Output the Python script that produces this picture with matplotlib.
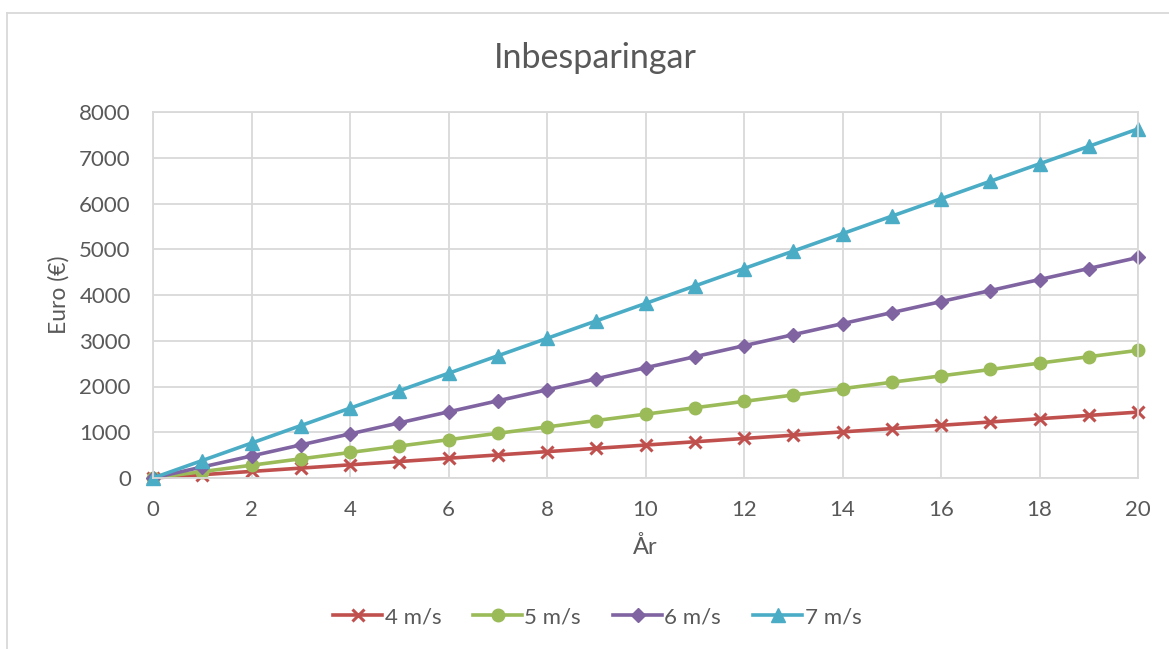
import matplotlib
matplotlib.use('Agg')
from matplotlib import pyplot as plt
from matplotlib.lines import Line2D

plt.rcParams['font.family'] = ['Lato', 'DejaVu Sans']

# år och inbesparing (euro) per vindhastighet
years = list(range(0, 21))
v4 = [0, 72, 144, 216, 288, 360, 432, 504, 576, 648, 720,
      792, 864, 936, 1008, 1080, 1152, 1224, 1296, 1368, 1440]
v5 = [0, 140, 279, 419, 558, 698, 837, 977, 1116, 1256, 1395,
      1535, 1674, 1814, 1953, 2093, 2232, 2372, 2511, 2651, 2790]
v6 = [0, 241, 482, 723, 964, 1205, 1446, 1687, 1928, 2169, 2410,
      2651, 2892, 3133, 3374, 3615, 3856, 4097, 4338, 4579, 4820]
v7 = [0, 382, 763, 1145, 1526, 1908, 2289, 2671, 3052, 3434, 3815,
      4197, 4578, 4960, 5341, 5723, 6104, 6486, 6867, 7249, 7630]
labels = ['4 m/s', '5 m/s', '6 m/s', '7 m/s']

grey = '#595959'
gridc = '#D9D9D9'

px = 1/100
fig = plt.figure(figsize=(1169*px, 649*px), dpi=100)
ax = fig.add_axes([153/1169, 1-478/649, (1138-153)/1169, (478-112)/649])

ax.plot(years, v4, color='#C0504D', lw=2.6, marker='x', ms=9, mew=2.2, label=labels[0])
ax.plot(years, v5, color='#9BBB59', lw=2.6, marker='o', ms=9, label=labels[1])
ax.plot(years, v6, color='#8064A2', lw=2.6, marker='D', ms=7.5, label=labels[2])
ax.plot(years, v7, color='#4BACC6', lw=2.6, marker='^', ms=10, label=labels[3])

ax.set_xlim(0, 20)
ax.set_ylim(0, 8000)
ax.set_xticks(range(0, 21, 2))
ax.set_yticks(range(0, 8001, 1000))
ax.grid(True, color=gridc, lw=1.3)
ax.set_axisbelow(True)
for s in ax.spines.values():
    s.set_color(gridc)
    s.set_linewidth(1.3)
ax.tick_params(length=0, labelsize=16, colors=grey, pad=16)
for m in ax.lines:
    m.set_clip_on(False)

ax.set_xlabel('År', fontsize=17, color=grey, labelpad=11)
ax.set_ylabel('Euro (€)', fontsize=16.5, color=grey, labelpad=7)
fig.text(0.509, 1-58/649, 'Inbesparingar', fontsize=24.5, color=grey,
         ha='center', va='center')

fig.legend(loc='center', bbox_to_anchor=(0.511, 1-617/649), ncol=4,
           frameon=False, fontsize=16, labelcolor=grey,
           handlelength=2.2, handletextpad=0.1, columnspacing=1.45)

# ram runt diagrammet
fig.add_artist(Line2D([7/1169, 7/1169], [0, 1-13/649], color=gridc, lw=1.3))
fig.add_artist(Line2D([7/1169, 1], [1-13/649, 1-13/649], color=gridc, lw=1.3))

fig.savefig('out.png', dpi=100)
